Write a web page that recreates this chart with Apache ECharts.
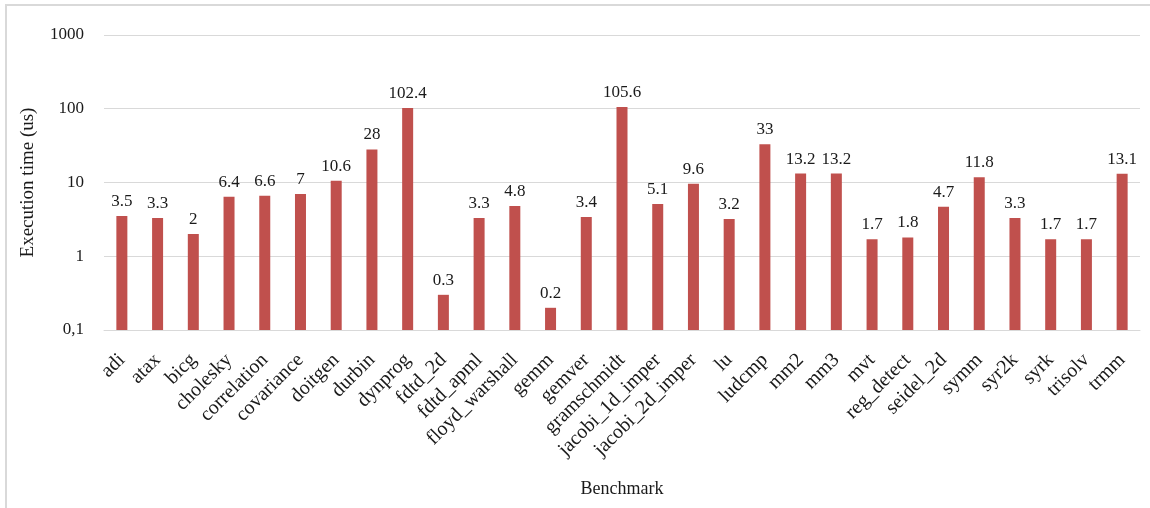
<!DOCTYPE html>
<html>
<head>
<meta charset="utf-8">
<script src="https://cdn.jsdelivr.net/npm/echarts@6/dist/echarts.min.js"></script>
<style>
  html, body { margin: 0; padding: 0; background: #fff; overflow: hidden; }
  #frame { position: absolute; left: 5px; top: 4px; width: 1160px; height: 520px;
           border: 2px solid #d9d9d9; box-sizing: border-box; }
  #chart { position: absolute; left: 0; top: 0; width: 1150px; height: 508px; }
</style>
</head>
<body>
<div id="frame"></div>
<div id="chart"></div>
<script>
// Benchmarks and measured execution times (microseconds)
const benchmarks = ['adi', 'atax', 'bicg', 'cholesky', 'correlation', 'covariance', 'doitgen',
  'durbin', 'dynprog', 'fdtd_2d', 'fdtd_apml', 'floyd_warshall', 'gemm', 'gemver',
  'gramschmidt', 'jacobi_1d_imper', 'jacobi_2d_imper', 'lu', 'ludcmp', 'mm2', 'mm3', 'mvt',
  'reg_detect', 'seidel_2d', 'symm', 'syr2k', 'syrk', 'trisolv', 'trmm'];
const execTimes = [3.5, 3.3, 2, 6.4, 6.6, 7, 10.6, 28, 102.4, 0.3, 3.3, 4.8, 0.2, 3.4,
  105.6, 5.1, 9.6, 3.2, 33, 13.2, 13.2, 1.7, 1.8, 4.7, 11.8, 3.3, 1.7, 1.7, 13.1];
const yTicks = [0.1, 1, 10, 100, 1000];
const yTickLabels = ['0,1', '1', '10', '100', '1000'];

const FONT = '"Liberation Serif", "DejaVu Serif", serif';
const INK = '#1a1a1a';
const chart = echarts.init(document.getElementById('chart'), null, { renderer: 'canvas' });

chart.setOption({
  animation: false,
  backgroundColor: 'transparent',
  grid: { left: 104, right: 10, top: 35, bottom: 178, containLabel: false },
  xAxis: {
    type: 'category',
    data: benchmarks,
    name: 'Benchmark',
    nameLocation: 'middle',
    nameGap: 150,
    nameTextStyle: { fontFamily: FONT, fontSize: 18, color: INK },
    axisLine: { show: true, lineStyle: { color: '#d9d9d9', width: 1 } },
    axisTick: { show: false },
    axisLabel: { rotate: 45, interval: 0, margin: 27, fontFamily: FONT, fontSize: 20, color: INK }
  },
  yAxis: {
    type: 'log',
    logBase: 10,
    min: yTicks[0],
    max: yTicks[yTicks.length - 1],
    startValue: yTicks[0],
    name: 'Execution time (us)',
    nameLocation: 'middle',
    nameGap: 66,
    nameTextStyle: { fontFamily: FONT, fontSize: 19, color: INK },
    axisLine: { show: false },
    axisTick: { show: false },
    splitLine: { show: true, lineStyle: { color: '#d9d9d9', width: 1 } },
    axisLabel: {
      margin: 20, fontFamily: FONT, fontSize: 17, color: INK,
      formatter: function (v) {
        const i = yTicks.findIndex(t => Math.abs(Math.log10(t) - Math.log10(v)) < 1e-6);
        return i >= 0 ? yTickLabels[i] : '';
      }
    }
  },
  series: [{
    type: 'bar',
    data: execTimes,
    barWidth: 11,
    itemStyle: { color: '#c0504d' },
    label: {
      show: true, position: 'top', distance: 6,
      fontFamily: FONT, fontSize: 17, color: INK,
      formatter: p => String(p.value)
    }
  }]
});
</script>
</body>
</html>
